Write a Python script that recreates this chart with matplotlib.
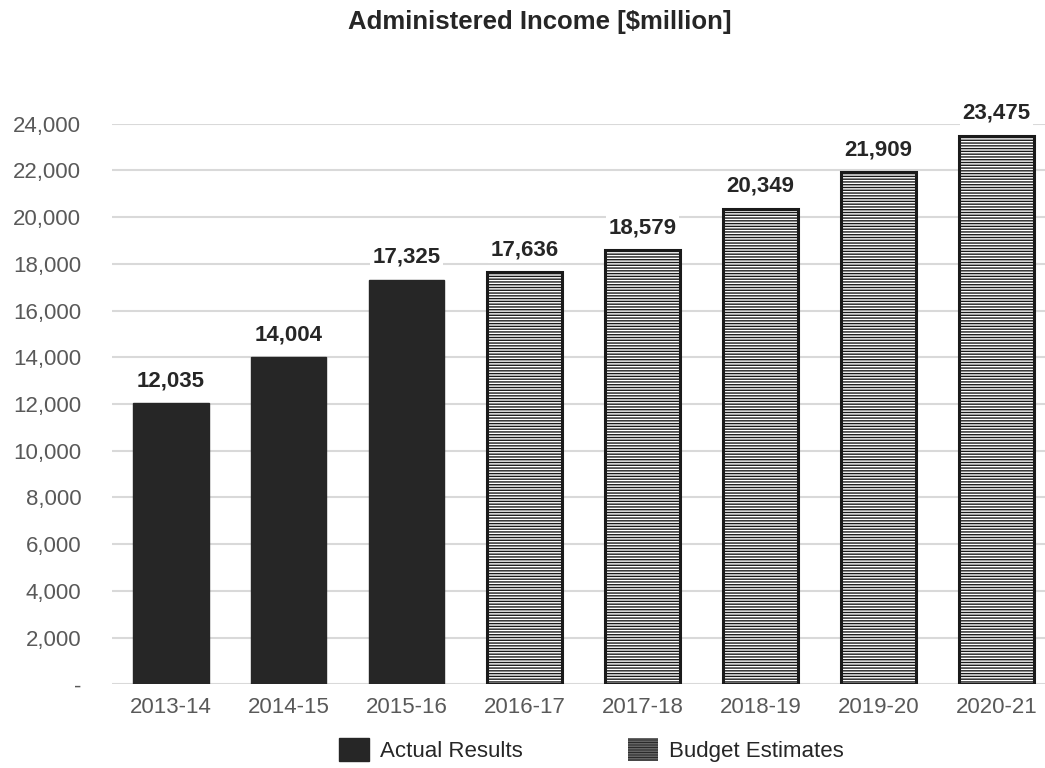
import matplotlib
matplotlib.use("Agg")
import matplotlib.pyplot as plt
from matplotlib.patches import Patch

plt.rcParams['font.family'] = ['Liberation Sans', 'DejaVu Sans']
plt.rcParams['hatch.linewidth'] = 1.0

years = ["2013-14", "2014-15", "2015-16", "2016-17", "2017-18", "2018-19", "2019-20", "2020-21"]
values = [12035, 14004, 17325, 17636, 18579, 20349, 21909, 23475]
is_actual = [True, True, True, False, False, False, False, False]
yticks = [0, 2000, 4000, 6000, 8000, 10000, 12000, 14000, 16000, 18000, 20000, 22000, 24000]
ytick_labels = ["-", "2,000", "4,000", "6,000", "8,000", "10,000", "12,000", "14,000",
                "16,000", "18,000", "20,000", "22,000", "24,000"]

fig = plt.figure(figsize=(10.45, 7.68), dpi=100)
ax = fig.add_axes([0.107, 0.109, 0.903, 0.730])

x = list(range(len(years)))
for xi, v, act in zip(x, values, is_actual):
    if act:
        ax.bar(xi, v, width=0.64, color='#262626', edgecolor='#262626', linewidth=1, zorder=3)
    else:
        ax.bar(xi, v, width=0.64, color='white', edgecolor='#1a1a1a', linewidth=2.2,
               hatch='------', zorder=3)
    ax.text(xi, v + 520, f"{v:,}", ha='center', va='bottom', fontsize=16,
            fontweight='bold', color='#262626', zorder=4, clip_on=False,
            bbox=dict(facecolor='white', edgecolor='none', pad=2))

ax.set_xlim(-0.5, 7.5)
ax.set_ylim(0, 24000)
ax.set_yticks(yticks)
ax.set_yticklabels(ytick_labels)
ax.set_xticks(x)
ax.set_xticklabels(years)
ax.tick_params(axis='both', length=0, labelsize=16, labelcolor='#595959')
ax.tick_params(axis='y', pad=22)
ax.tick_params(axis='x', pad=9)
ax.grid(axis='y', color='#d9d9d9', linewidth=1.5, zorder=0)
for s in ax.spines.values():
    s.set_visible(False)

fig.text(0.517, 0.971, "Administered Income [$million]", ha='center', va='center',
         fontsize=18.5, fontweight='bold', color='#262626')

handles = [Patch(facecolor='#262626', edgecolor='#262626', label='Actual Results'),
           Patch(facecolor='white', edgecolor='#2a2a2a', linewidth=0, hatch='----------',
                 label='Budget Estimates')]
fig.legend(handles=handles, loc='center', bbox_to_anchor=(0.566, 0.023), ncol=2,
           frameon=False, fontsize=16, handlelength=1.35, handleheight=1.2,
           columnspacing=4.7, handletextpad=0.5, labelcolor='#262626')

fig.savefig("out.png", dpi=100)
